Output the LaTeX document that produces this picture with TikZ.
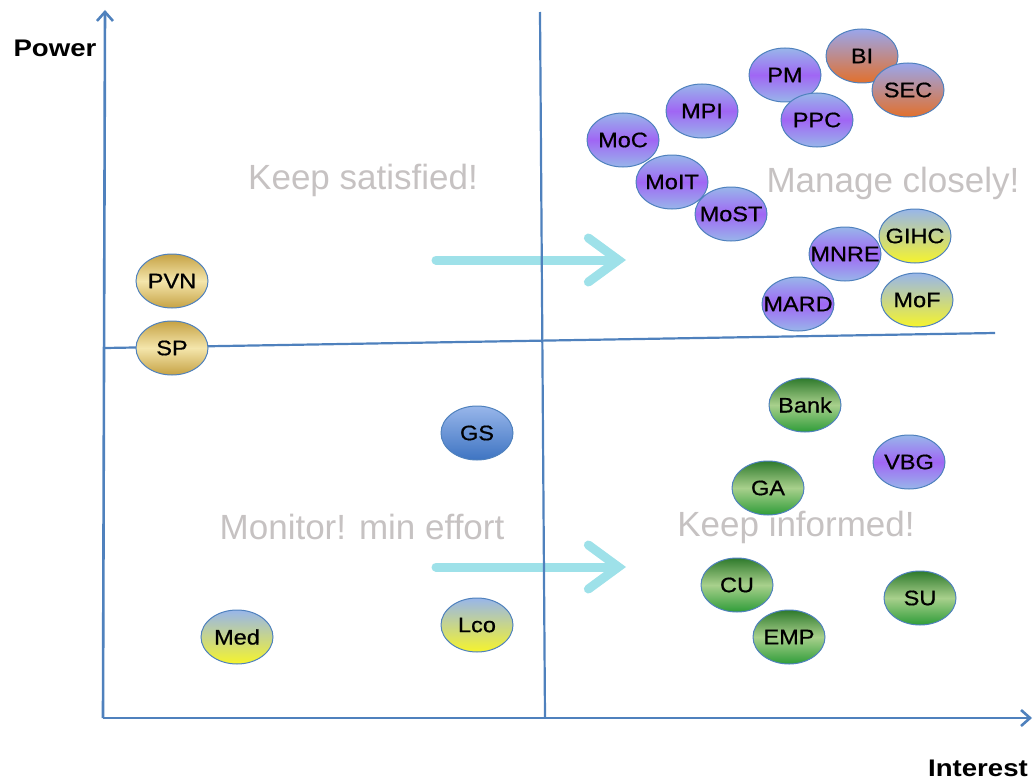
\documentclass[tikz,border=0pt]{standalone}
\usepackage{fontspec}
\setmainfont{Liberation Sans}
\newfontfamily\widesans[FakeStretch=1.15]{Liberation Sans}
\newfontfamily\stakesans[FakeStretch=1.12, FakeBold=0.6]{Liberation Sans}
\usetikzlibrary{arrows.meta, positioning, shapes.geometric}
\definecolor{axisblue}{HTML}{4F81BD}
\definecolor{hintgray}{HTML}{C6C2C2}
\definecolor{arrowcyan}{HTML}{9EE1E9}
\definecolor{paleblue}{HTML}{98B6EA}
\definecolor{midviolet}{HTML}{A066F4}
\definecolor{deeporange}{HTML}{E2702C}
\definecolor{lemon}{HTML}{F6F42C}
\definecolor{darkgold}{HTML}{C6A244}
\definecolor{palegold}{HTML}{F4E6AC}
\definecolor{darkgreen}{HTML}{2F7A2C}
\definecolor{lightgreen}{HTML}{A8D08C}
\definecolor{grassgreen}{HTML}{2E9C38}
\definecolor{deepblue}{HTML}{3E74C2}

\begin{document}
\begin{tikzpicture}[x=1pt, y=-1pt,
    axis/.style={line width=2.6pt, color=axisblue, -{Straight Barb[length=9pt, width=16pt]}},
    split/.style={line width=2.2pt, color=axisblue},
    push/.style={line width=9pt, color=arrowcyan, line cap=round,
                 -{Straight Barb[length=30pt, width=44pt, line cap=round]}},
    hint/.style={font=\fontsize{35}{37}\selectfont, text=hintgray},
    axlabel/.style={font=\widesans\bfseries\fontsize{24}{26}\selectfont},
    stake/.style={ellipse, draw=axisblue, line width=1pt, inner sep=0pt,
                  minimum width=72pt, minimum height=54pt,
                  font=\stakesans\fontsize{21}{22}\selectfont},
    ministry/.style={stake, top color=paleblue, bottom color=paleblue, middle color=midviolet},
    external/.style={stake, top color=paleblue!80!midviolet, bottom color=deeporange},
    local/.style={stake, top color=paleblue, bottom color=lemon},
    province/.style={stake, top color=darkgold, bottom color=darkgold, middle color=palegold},
    business/.style={stake, top color=darkgreen, bottom color=grassgreen, middle color=lightgreen},
    society/.style={stake, top color=paleblue, bottom color=deepblue}
  ]
    \useasboundingbox (0,0) rectangle (1035,781);

    % shift arrows
    \coordinate (upfrom) at (436,260);
    \coordinate (upto) at (626,260);
    \coordinate (lowfrom) at (436,567);
    \coordinate (lowto) at (626,567);
    \draw[push] (upfrom) -- (upto);
    \draw[push] (lowfrom) -- (lowto);

    % axes and quadrants
    \coordinate (orig) at (103,718);
    \coordinate (ytip) at (105,10);
    \coordinate (xtip) at (1032,718);
    \coordinate (vtop) at (540,12);
    \coordinate (vbot) at (545,718);
    \coordinate (hleft) at (105,348);
    \coordinate (hright) at (995,333);
    \draw[split] (vtop) -- (vbot);
    \draw[split] (hleft) -- (hright);
    \draw[axis] (orig) -- (ytip);
    \draw[axis] (orig) -- (xtip);
    \node[axlabel] (power) at (55,48) {Power};
    \node[axlabel] (interest) at (978,768) {Interest};

    % quadrant hints
    \node[hint] (satisfied) at (363,180) {Keep satisfied!};
    \node[hint] (closely) at (893,183) {Manage closely!};
    \node[hint] (monitor) at (362,527) {Monitor! min effort};
    \node[hint] (informed) at (796,527) {Keep informed!};

    % stakeholders
    \node[province] (pvn) at (172,281) {\makebox[0pt]{PVN}};
    \node[province] (sp) at (172,348) {\makebox[0pt]{SP}};
    \node[society] (gs) at (477,433) {\makebox[0pt]{GS}};
    \node[local] (med) at (237,637) {\makebox[0pt]{Med}};
    \node[local] (lco) at (477,625) {\makebox[0pt]{Lco}};

    \node[ministry] (moc) at (623,140) {\makebox[0pt]{MoC}};
    \node[ministry] (mpi) at (702,111) {\makebox[0pt]{MPI}};
    \node[ministry] (pm) at (785,75) {\makebox[0pt]{PM}};
    \node[ministry] (ppc) at (817,120) {\makebox[0pt]{PPC}};
    \node[external] (bi) at (862,56) {\makebox[0pt]{BI}};
    \node[external] (sec) at (908,90) {\makebox[0pt]{SEC}};
    \node[ministry] (moit) at (672,182) {\makebox[0pt]{MoIT}};
    \node[ministry] (most) at (731,214) {\makebox[0pt]{MoST}};
    \node[local] (gihc) at (915,236) {\makebox[0pt]{GIHC}};
    \node[ministry] (mnre) at (845,254) {\makebox[0pt]{MNRE}};
    \node[ministry] (mard) at (798,304) {\makebox[0pt]{MARD}};
    \node[local] (mof) at (917,300) {\makebox[0pt]{MoF}};

    \node[business] (bank) at (805,405) {\makebox[0pt]{Bank}};
    \node[ministry] (vbg) at (909,462) {\makebox[0pt]{VBG}};
    \node[business] (ga) at (768,488) {\makebox[0pt]{GA}};
    \node[business] (cu) at (737,585) {\makebox[0pt]{CU}};
    \node[business] (emp) at (789,637) {\makebox[0pt]{EMP}};
    \node[business] (su) at (920,598) {\makebox[0pt]{SU}};
  \end{tikzpicture}
\end{document}
